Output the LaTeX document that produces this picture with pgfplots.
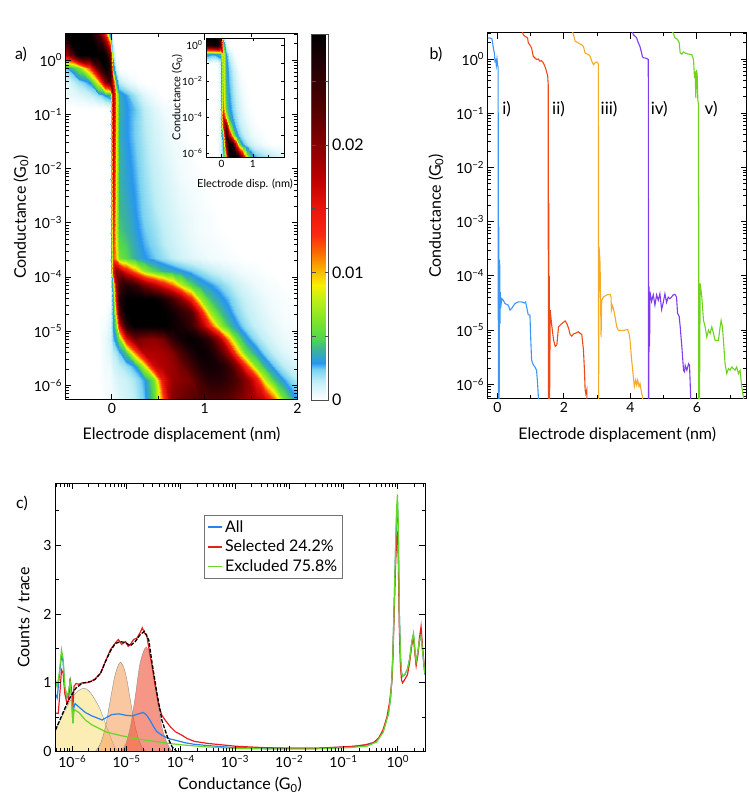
\documentclass[border=0pt]{standalone}
\usepackage{pgfplots}
\pgfplotsset{compat=1.18}
\usepackage{fontspec}
\setmainfont{Lato}
\definecolor{trI}{RGB}{60,150,245}
\definecolor{trII}{RGB}{235,75,25}
\definecolor{trIII}{RGB}{245,170,40}
\definecolor{trIV}{RGB}{125,60,240}
\definecolor{trV}{RGB}{110,210,30}
\definecolor{hAll}{RGB}{40,130,235}
\definecolor{hSel}{RGB}{235,30,30}
\definecolor{hExc}{RGB}{100,215,40}
\definecolor{gY}{RGB}{250,225,130}
\definecolor{gO}{RGB}{247,163,97}
\definecolor{gR}{RGB}{238,80,55}
\def\logminor{-6.699,-6.523,-6.398,-6.301,-6.222,-6.155,-6.097,-6.046,-5.699,-5.523,-5.398,-5.301,-5.222,-5.155,-5.097,-5.046,-4.699,-4.523,-4.398,-4.301,-4.222,-4.155,-4.097,-4.046,-3.699,-3.523,-3.398,-3.301,-3.222,-3.155,-3.097,-3.046,-2.699,-2.523,-2.398,-2.301,-2.222,-2.155,-2.097,-2.046,-1.699,-1.523,-1.398,-1.301,-1.222,-1.155,-1.097,-1.046,-0.699,-0.523,-0.398,-0.301,-0.222,-0.155,-0.097,-0.046,0.301,0.477}
\newcommand\tp[1]{10\textsuperscript{#1}}
\pgfplotsset{
  colormap={hm}{rgb255(0pt)=(255,255,255) rgb255(5pt)=(236,250,252) rgb255(15pt)=(190,238,245) rgb255(24pt)=(120,210,240) rgb255(29pt)=(40,150,240) rgb255(34pt)=(50,165,200) rgb255(40pt)=(60,180,150) rgb255(48pt)=(80,215,80) rgb255(63pt)=(130,230,40) rgb255(81pt)=(200,240,20) rgb255(90pt)=(250,240,0) rgb255(103pt)=(250,175,0) rgb255(117pt)=(250,100,0) rgb255(130pt)=(250,40,20) rgb255(150pt)=(235,20,10) rgb255(175pt)=(185,0,0) rgb255(200pt)=(135,0,0) rgb255(227pt)=(85,0,0) rgb255(265pt)=(30,0,5) rgb255(287pt)=(0,0,0)},
  myax/.style={scale only axis, anchor=south west, axis line style={line width=1pt},
    every tick/.style={line width=0.8pt, black}, major tick length=6pt, minor tick length=3.5pt,
    tick label style={font=\fontsize{14}{16}\selectfont},
    label style={font=\fontsize{16}{19}\selectfont}},
}
\begin{document}
\begin{tikzpicture}
\useasboundingbox (0,0) rectangle (748pt,795pt);
% ---------------- panel a ----------------
\begin{axis}[myax, at={(65.5pt,395pt)}, width=232pt, height=366pt,
  xmin=-0.5, xmax=2, ymin=-6.27, ymax=0.48, axis on top,
  xtick={0,1,2}, xticklabels={0,1,2}, minor xtick={-0.5,0.5,1.5},
  ytick={-6,-5,-4,-3,-2,-1,0}, yticklabels={\tp{−6},\tp{−5},\tp{−4},\tp{−3},\tp{−2},\tp{−1},\tp{0}},
  minor ytick=\logminor,
  xlabel={Electrode displacement (nm)}, ylabel={Conductance (G\textsubscript{0})},
  xlabel style={at={(axis description cs:0.5,-0.0956)}, anchor=center},
  ylabel style={at={(axis description cs:-0.192,0.5)}, anchor=center},
  colormap name=hm, point meta min=0, point meta max=287,
  colorbar,
  colorbar style={at={(parent axis.north east)}, anchor=north west, xshift=5.5pt,
    width=17pt, height=366pt, scale only axis, axis line style={line width=0.6pt, black!70},
    ytick={0,50,100,150,200,250}, yticklabels={0,,0.01,,0.02,},
    yticklabel style={font=\fontsize{16}{18}\selectfont},
    major tick length=4pt, every tick/.style={line width=0.6pt, black!70}},
]
\addplot[surf, shader=interp, mesh/cols=28, point meta=explicit] coordinates {
(-0.5,-6.27)[0] (-0.35,-6.27)[0] (-0.25,-6.27)[0] (-0.15,-6.27)[0] (-0.07,-6.27)[2] (-0.02,-6.27)[3] (0.015,-6.27)[5] (0.045,-6.27)[6] (0.08,-6.27)[8] (0.15,-6.27)[10] (0.25,-6.27)[15] (0.35,-6.27)[25] (0.45,-6.27)[50] (0.55,-6.27)[120] (0.65,-6.27)[200] (0.75,-6.27)[215] (0.85,-6.27)[225] (0.95,-6.27)[230] (1.05,-6.27)[230] (1.15,-6.27)[230] (1.25,-6.27)[225] (1.35,-6.27)[210] (1.45,-6.27)[195] (1.55,-6.27)[180] (1.65,-6.27)[165] (1.75,-6.27)[120] (1.85,-6.27)[60] (2.0,-6.27)[30]
(-0.5,-5.90)[0] (-0.35,-5.90)[0] (-0.25,-5.90)[0] (-0.15,-5.90)[0] (-0.07,-5.90)[3] (-0.02,-5.90)[3] (0.015,-5.90)[6] (0.045,-5.90)[8] (0.08,-5.90)[10] (0.15,-5.90)[12] (0.25,-5.90)[18] (0.35,-5.90)[28] (0.45,-5.90)[60] (0.55,-5.90)[150] (0.65,-5.90)[190] (0.75,-5.90)[200] (0.85,-5.90)[210] (0.95,-5.90)[240] (1.05,-5.90)[260] (1.15,-5.90)[260] (1.25,-5.90)[250] (1.35,-5.90)[230] (1.45,-5.90)[200] (1.55,-5.90)[150] (1.65,-5.90)[80] (1.75,-5.90)[45] (1.85,-5.90)[28] (2.0,-5.90)[16]
(-0.5,-5.65)[0] (-0.35,-5.65)[0] (-0.25,-5.65)[0] (-0.15,-5.65)[0] (-0.07,-5.65)[4] (-0.02,-5.65)[5] (0.015,-5.65)[10] (0.045,-5.65)[12] (0.08,-5.65)[15] (0.15,-5.65)[20] (0.25,-5.65)[30] (0.35,-5.65)[80] (0.45,-5.65)[165] (0.55,-5.65)[180] (0.65,-5.65)[190] (0.75,-5.65)[210] (0.85,-5.65)[240] (0.95,-5.65)[265] (1.05,-5.65)[275] (1.15,-5.65)[270] (1.25,-5.65)[250] (1.35,-5.65)[200] (1.45,-5.65)[130] (1.55,-5.65)[65] (1.65,-5.65)[38] (1.75,-5.65)[25] (1.85,-5.65)[15] (2.0,-5.65)[9]
(-0.5,-5.40)[0] (-0.35,-5.40)[0] (-0.25,-5.40)[0] (-0.15,-5.40)[0] (-0.07,-5.40)[5] (-0.02,-5.40)[8] (0.015,-5.40)[15] (0.045,-5.40)[18] (0.08,-5.40)[25] (0.15,-5.40)[45] (0.25,-5.40)[110] (0.35,-5.40)[175] (0.45,-5.40)[180] (0.55,-5.40)[185] (0.65,-5.40)[200] (0.75,-5.40)[235] (0.85,-5.40)[265] (0.95,-5.40)[280] (1.05,-5.40)[275] (1.15,-5.40)[240] (1.25,-5.40)[190] (1.35,-5.40)[110] (1.45,-5.40)[55] (1.55,-5.40)[35] (1.65,-5.40)[22] (1.75,-5.40)[14] (1.85,-5.40)[8] (2.0,-5.40)[5]
(-0.5,-5.15)[0] (-0.35,-5.15)[0] (-0.25,-5.15)[0] (-0.15,-5.15)[0] (-0.07,-5.15)[5] (-0.02,-5.15)[10] (0.015,-5.15)[25] (0.045,-5.15)[35] (0.08,-5.15)[60] (0.15,-5.15)[150] (0.25,-5.15)[210] (0.35,-5.15)[200] (0.45,-5.15)[195] (0.55,-5.15)[210] (0.65,-5.15)[250] (0.75,-5.15)[275] (0.85,-5.15)[285] (0.95,-5.15)[275] (1.05,-5.15)[250] (1.15,-5.15)[190] (1.25,-5.15)[110] (1.35,-5.15)[55] (1.45,-5.15)[32] (1.55,-5.15)[20] (1.65,-5.15)[13] (1.75,-5.15)[8] (1.85,-5.15)[5] (2.0,-5.15)[3]
(-0.5,-4.90)[0] (-0.35,-4.90)[0] (-0.25,-4.90)[0] (-0.15,-4.90)[0] (-0.07,-4.90)[3] (-0.02,-4.90)[8] (0.015,-4.90)[30] (0.045,-4.90)[60] (0.08,-4.90)[150] (0.15,-4.90)[260] (0.25,-4.90)[287] (0.35,-4.90)[287] (0.45,-4.90)[287] (0.55,-4.90)[287] (0.65,-4.90)[280] (0.75,-4.90)[270] (0.85,-4.90)[250] (0.95,-4.90)[200] (1.05,-4.90)[140] (1.15,-4.90)[75] (1.25,-4.90)[45] (1.35,-4.90)[30] (1.45,-4.90)[20] (1.55,-4.90)[13] (1.65,-4.90)[9] (1.75,-4.90)[6] (1.85,-4.90)[3] (2.0,-4.90)[2]
(-0.5,-4.65)[0] (-0.35,-4.65)[0] (-0.25,-4.65)[0] (-0.15,-4.65)[0] (-0.07,-4.65)[0] (-0.02,-4.65)[5] (0.015,-4.65)[35] (0.045,-4.65)[110] (0.08,-4.65)[240] (0.15,-4.65)[287] (0.25,-4.65)[287] (0.35,-4.65)[287] (0.45,-4.65)[287] (0.55,-4.65)[287] (0.65,-4.65)[275] (0.75,-4.65)[255] (0.85,-4.65)[230] (0.95,-4.65)[150] (1.05,-4.65)[75] (1.15,-4.65)[45] (1.25,-4.65)[32] (1.35,-4.65)[22] (1.45,-4.65)[15] (1.55,-4.65)[10] (1.65,-4.65)[7] (1.75,-4.65)[4] (1.85,-4.65)[2] (2.0,-4.65)[1]
(-0.5,-4.40)[0] (-0.35,-4.40)[0] (-0.25,-4.40)[0] (-0.15,-4.40)[0] (-0.07,-4.40)[0] (-0.02,-4.40)[0] (0.015,-4.40)[40] (0.045,-4.40)[150] (0.08,-4.40)[260] (0.15,-4.40)[287] (0.25,-4.40)[287] (0.35,-4.40)[287] (0.45,-4.40)[287] (0.55,-4.40)[270] (0.65,-4.40)[240] (0.75,-4.40)[200] (0.85,-4.40)[140] (0.95,-4.40)[75] (1.05,-4.40)[45] (1.15,-4.40)[33] (1.25,-4.40)[26] (1.35,-4.40)[18] (1.45,-4.40)[12] (1.55,-4.40)[8] (1.65,-4.40)[5] (1.75,-4.40)[3] (1.85,-4.40)[2] (2.0,-4.40)[0]
(-0.5,-4.15)[0] (-0.35,-4.15)[0] (-0.25,-4.15)[0] (-0.15,-4.15)[0] (-0.07,-4.15)[0] (-0.02,-4.15)[0] (0.015,-4.15)[60] (0.045,-4.15)[180] (0.08,-4.15)[240] (0.15,-4.15)[265] (0.25,-4.15)[250] (0.35,-4.15)[210] (0.45,-4.15)[180] (0.55,-4.15)[150] (0.65,-4.15)[120] (0.75,-4.15)[80] (0.85,-4.15)[50] (0.95,-4.15)[36] (1.05,-4.15)[30] (1.15,-4.15)[24] (1.25,-4.15)[18] (1.35,-4.15)[12] (1.45,-4.15)[8] (1.55,-4.15)[5] (1.65,-4.15)[3] (1.75,-4.15)[2] (1.85,-4.15)[0] (2.0,-4.15)[0]
(-0.5,-3.90)[0] (-0.35,-3.90)[0] (-0.25,-3.90)[0] (-0.15,-3.90)[0] (-0.07,-3.90)[0] (-0.02,-3.90)[0] (0.015,-3.90)[150] (0.045,-3.90)[200] (0.08,-3.90)[190] (0.15,-3.90)[150] (0.25,-3.90)[110] (0.35,-3.90)[70] (0.45,-3.90)[50] (0.55,-3.90)[40] (0.65,-3.90)[35] (0.75,-3.90)[30] (0.85,-3.90)[25] (0.95,-3.90)[20] (1.05,-3.90)[15] (1.15,-3.90)[11] (1.25,-3.90)[8] (1.35,-3.90)[5] (1.45,-3.90)[3] (1.55,-3.90)[2] (1.65,-3.90)[0] (1.75,-3.90)[0] (1.85,-3.90)[0] (2.0,-3.90)[0]
(-0.5,-3.65)[0] (-0.35,-3.65)[0] (-0.25,-3.65)[0] (-0.15,-3.65)[0] (-0.07,-3.65)[0] (-0.02,-3.65)[0] (0.015,-3.65)[120] (0.045,-3.65)[100] (0.08,-3.65)[60] (0.15,-3.65)[50] (0.25,-3.65)[38] (0.35,-3.65)[30] (0.45,-3.65)[25] (0.55,-3.65)[20] (0.65,-3.65)[15] (0.75,-3.65)[11] (0.85,-3.65)[8] (0.95,-3.65)[6] (1.05,-3.65)[4] (1.15,-3.65)[3] (1.25,-3.65)[2] (1.35,-3.65)[1] (1.45,-3.65)[0] (1.55,-3.65)[0] (1.65,-3.65)[0] (1.75,-3.65)[0] (1.85,-3.65)[0] (2.0,-3.65)[0]
(-0.5,-3.40)[0] (-0.35,-3.40)[0] (-0.25,-3.40)[0] (-0.15,-3.40)[0] (-0.07,-3.40)[0] (-0.02,-3.40)[0] (0.015,-3.40)[130] (0.045,-3.40)[90] (0.08,-3.40)[50] (0.15,-3.40)[45] (0.25,-3.40)[35] (0.35,-3.40)[27] (0.45,-3.40)[22] (0.55,-3.40)[16] (0.65,-3.40)[12] (0.75,-3.40)[9] (0.85,-3.40)[6] (0.95,-3.40)[4] (1.05,-3.40)[3] (1.15,-3.40)[2] (1.25,-3.40)[1] (1.35,-3.40)[0] (1.45,-3.40)[0] (1.55,-3.40)[0] (1.65,-3.40)[0] (1.75,-3.40)[0] (1.85,-3.40)[0] (2.0,-3.40)[0]
(-0.5,-3.15)[0] (-0.35,-3.15)[0] (-0.25,-3.15)[0] (-0.15,-3.15)[0] (-0.07,-3.15)[0] (-0.02,-3.15)[0] (0.015,-3.15)[140] (0.045,-3.15)[85] (0.08,-3.15)[45] (0.15,-3.15)[40] (0.25,-3.15)[32] (0.35,-3.15)[25] (0.45,-3.15)[20] (0.55,-3.15)[15] (0.65,-3.15)[11] (0.75,-3.15)[8] (0.85,-3.15)[5] (0.95,-3.15)[3] (1.05,-3.15)[2] (1.15,-3.15)[1] (1.25,-3.15)[0] (1.35,-3.15)[0] (1.45,-3.15)[0] (1.55,-3.15)[0] (1.65,-3.15)[0] (1.75,-3.15)[0] (1.85,-3.15)[0] (2.0,-3.15)[0]
(-0.5,-2.90)[0] (-0.35,-2.90)[0] (-0.25,-2.90)[0] (-0.15,-2.90)[0] (-0.07,-2.90)[0] (-0.02,-2.90)[0] (0.015,-2.90)[150] (0.045,-2.90)[82] (0.08,-2.90)[42] (0.15,-2.90)[38] (0.25,-2.90)[30] (0.35,-2.90)[23] (0.45,-2.90)[18] (0.55,-2.90)[13] (0.65,-2.90)[10] (0.75,-2.90)[7] (0.85,-2.90)[5] (0.95,-2.90)[3] (1.05,-2.90)[2] (1.15,-2.90)[0] (1.25,-2.90)[0] (1.35,-2.90)[0] (1.45,-2.90)[0] (1.55,-2.90)[0] (1.65,-2.90)[0] (1.75,-2.90)[0] (1.85,-2.90)[0] (2.0,-2.90)[0]
(-0.5,-2.65)[0] (-0.35,-2.65)[0] (-0.25,-2.65)[0] (-0.15,-2.65)[0] (-0.07,-2.65)[0] (-0.02,-2.65)[0] (0.015,-2.65)[160] (0.045,-2.65)[85] (0.08,-2.65)[40] (0.15,-2.65)[36] (0.25,-2.65)[29] (0.35,-2.65)[22] (0.45,-2.65)[16] (0.55,-2.65)[12] (0.65,-2.65)[9] (0.75,-2.65)[6] (0.85,-2.65)[4] (0.95,-2.65)[2] (1.05,-2.65)[1] (1.15,-2.65)[0] (1.25,-2.65)[0] (1.35,-2.65)[0] (1.45,-2.65)[0] (1.55,-2.65)[0] (1.65,-2.65)[0] (1.75,-2.65)[0] (1.85,-2.65)[0] (2.0,-2.65)[0]
(-0.5,-2.40)[0] (-0.35,-2.40)[0] (-0.25,-2.40)[0] (-0.15,-2.40)[0] (-0.07,-2.40)[0] (-0.02,-2.40)[0] (0.015,-2.40)[165] (0.045,-2.40)[85] (0.08,-2.40)[40] (0.15,-2.40)[34] (0.25,-2.40)[28] (0.35,-2.40)[21] (0.45,-2.40)[15] (0.55,-2.40)[11] (0.65,-2.40)[8] (0.75,-2.40)[5] (0.85,-2.40)[3] (0.95,-2.40)[2] (1.05,-2.40)[0] (1.15,-2.40)[0] (1.25,-2.40)[0] (1.35,-2.40)[0] (1.45,-2.40)[0] (1.55,-2.40)[0] (1.65,-2.40)[0] (1.75,-2.40)[0] (1.85,-2.40)[0] (2.0,-2.40)[0]
(-0.5,-2.15)[0] (-0.35,-2.15)[0] (-0.25,-2.15)[0] (-0.15,-2.15)[0] (-0.07,-2.15)[0] (-0.02,-2.15)[0] (0.015,-2.15)[170] (0.045,-2.15)[88] (0.08,-2.15)[38] (0.15,-2.15)[33] (0.25,-2.15)[27] (0.35,-2.15)[20] (0.45,-2.15)[14] (0.55,-2.15)[10] (0.65,-2.15)[7] (0.75,-2.15)[4] (0.85,-2.15)[2] (0.95,-2.15)[1] (1.05,-2.15)[0] (1.15,-2.15)[0] (1.25,-2.15)[0] (1.35,-2.15)[0] (1.45,-2.15)[0] (1.55,-2.15)[0] (1.65,-2.15)[0] (1.75,-2.15)[0] (1.85,-2.15)[0] (2.0,-2.15)[0]
(-0.5,-1.90)[0] (-0.35,-1.90)[0] (-0.25,-1.90)[0] (-0.15,-1.90)[0] (-0.07,-1.90)[0] (-0.02,-1.90)[0] (0.015,-1.90)[175] (0.045,-1.90)[90] (0.08,-1.90)[38] (0.15,-1.90)[32] (0.25,-1.90)[26] (0.35,-1.90)[19] (0.45,-1.90)[13] (0.55,-1.90)[9] (0.65,-1.90)[6] (0.75,-1.90)[3] (0.85,-1.90)[2] (0.95,-1.90)[0] (1.05,-1.90)[0] (1.15,-1.90)[0] (1.25,-1.90)[0] (1.35,-1.90)[0] (1.45,-1.90)[0] (1.55,-1.90)[0] (1.65,-1.90)[0] (1.75,-1.90)[0] (1.85,-1.90)[0] (2.0,-1.90)[0]
(-0.5,-1.65)[0] (-0.35,-1.65)[0] (-0.25,-1.65)[0] (-0.15,-1.65)[0] (-0.07,-1.65)[0] (-0.02,-1.65)[0] (0.015,-1.65)[180] (0.045,-1.65)[90] (0.08,-1.65)[38] (0.15,-1.65)[31] (0.25,-1.65)[25] (0.35,-1.65)[18] (0.45,-1.65)[12] (0.55,-1.65)[8] (0.65,-1.65)[5] (0.75,-1.65)[3] (0.85,-1.65)[1] (0.95,-1.65)[0] (1.05,-1.65)[0] (1.15,-1.65)[0] (1.25,-1.65)[0] (1.35,-1.65)[0] (1.45,-1.65)[0] (1.55,-1.65)[0] (1.65,-1.65)[0] (1.75,-1.65)[0] (1.85,-1.65)[0] (2.0,-1.65)[0]
(-0.5,-1.40)[0] (-0.35,-1.40)[0] (-0.25,-1.40)[0] (-0.15,-1.40)[0] (-0.07,-1.40)[0] (-0.02,-1.40)[0] (0.015,-1.40)[185] (0.045,-1.40)[92] (0.08,-1.40)[36] (0.15,-1.40)[30] (0.25,-1.40)[24] (0.35,-1.40)[17] (0.45,-1.40)[11] (0.55,-1.40)[7] (0.65,-1.40)[4] (0.75,-1.40)[2] (0.85,-1.40)[0] (0.95,-1.40)[0] (1.05,-1.40)[0] (1.15,-1.40)[0] (1.25,-1.40)[0] (1.35,-1.40)[0] (1.45,-1.40)[0] (1.55,-1.40)[0] (1.65,-1.40)[0] (1.75,-1.40)[0] (1.85,-1.40)[0] (2.0,-1.40)[0]
(-0.5,-1.15)[0] (-0.35,-1.15)[0] (-0.25,-1.15)[0] (-0.15,-1.15)[0] (-0.07,-1.15)[0] (-0.02,-1.15)[0] (0.015,-1.15)[190] (0.045,-1.15)[95] (0.08,-1.15)[36] (0.15,-1.15)[30] (0.25,-1.15)[24] (0.35,-1.15)[16] (0.45,-1.15)[10] (0.55,-1.15)[6] (0.65,-1.15)[3] (0.75,-1.15)[2] (0.85,-1.15)[0] (0.95,-1.15)[0] (1.05,-1.15)[0] (1.15,-1.15)[0] (1.25,-1.15)[0] (1.35,-1.15)[0] (1.45,-1.15)[0] (1.55,-1.15)[0] (1.65,-1.15)[0] (1.75,-1.15)[0] (1.85,-1.15)[0] (2.0,-1.15)[0]
(-0.5,-0.90)[0] (-0.35,-0.90)[0] (-0.25,-0.90)[0] (-0.15,-0.90)[0] (-0.07,-0.90)[0] (-0.02,-0.90)[3] (0.015,-0.90)[190] (0.045,-0.90)[95] (0.08,-0.90)[38] (0.15,-0.90)[30] (0.25,-0.90)[25] (0.35,-0.90)[15] (0.45,-0.90)[8] (0.55,-0.90)[4] (0.65,-0.90)[2] (0.75,-0.90)[0] (0.85,-0.90)[0] (0.95,-0.90)[0] (1.05,-0.90)[0] (1.15,-0.90)[0] (1.25,-0.90)[0] (1.35,-0.90)[0] (1.45,-0.90)[0] (1.55,-0.90)[0] (1.65,-0.90)[0] (1.75,-0.90)[0] (1.85,-0.90)[0] (2.0,-0.90)[0]
(-0.5,-0.65)[5] (-0.35,-0.65)[8] (-0.25,-0.65)[12] (-0.15,-0.65)[20] (-0.07,-0.65)[30] (-0.02,-0.65)[35] (0.015,-0.65)[190] (0.045,-0.65)[95] (0.08,-0.65)[35] (0.15,-0.65)[28] (0.25,-0.65)[18] (0.35,-0.65)[8] (0.45,-0.65)[3] (0.55,-0.65)[0] (0.65,-0.65)[0] (0.75,-0.65)[0] (0.85,-0.65)[0] (0.95,-0.65)[0] (1.05,-0.65)[0] (1.15,-0.65)[0] (1.25,-0.65)[0] (1.35,-0.65)[0] (1.45,-0.65)[0] (1.55,-0.65)[0] (1.65,-0.65)[0] (1.75,-0.65)[0] (1.85,-0.65)[0] (2.0,-0.65)[0]
(-0.5,-0.40)[8] (-0.35,-0.40)[20] (-0.25,-0.40)[30] (-0.15,-0.40)[90] (-0.07,-0.40)[200] (-0.02,-0.40)[240] (0.015,-0.40)[150] (0.045,-0.40)[40] (0.08,-0.40)[15] (0.15,-0.40)[8] (0.25,-0.40)[3] (0.35,-0.40)[0] (0.45,-0.40)[0] (0.55,-0.40)[0] (0.65,-0.40)[0] (0.75,-0.40)[0] (0.85,-0.40)[0] (0.95,-0.40)[0] (1.05,-0.40)[0] (1.15,-0.40)[0] (1.25,-0.40)[0] (1.35,-0.40)[0] (1.45,-0.40)[0] (1.55,-0.40)[0] (1.65,-0.40)[0] (1.75,-0.40)[0] (1.85,-0.40)[0] (2.0,-0.40)[0]
(-0.5,-0.15)[25] (-0.35,-0.15)[60] (-0.25,-0.15)[120] (-0.15,-0.15)[230] (-0.07,-0.15)[287] (-0.02,-0.15)[260] (0.015,-0.15)[40] (0.045,-0.15)[10] (0.08,-0.15)[0] (0.15,-0.15)[0] (0.25,-0.15)[0] (0.35,-0.15)[0] (0.45,-0.15)[0] (0.55,-0.15)[0] (0.65,-0.15)[0] (0.75,-0.15)[0] (0.85,-0.15)[0] (0.95,-0.15)[0] (1.05,-0.15)[0] (1.15,-0.15)[0] (1.25,-0.15)[0] (1.35,-0.15)[0] (1.45,-0.15)[0] (1.55,-0.15)[0] (1.65,-0.15)[0] (1.75,-0.15)[0] (1.85,-0.15)[0] (2.0,-0.15)[0]
(-0.5,0.10)[180] (-0.35,0.10)[287] (-0.25,0.10)[287] (-0.15,0.10)[287] (-0.07,0.10)[287] (-0.02,0.10)[220] (0.015,0.10)[20] (0.045,0.10)[0] (0.08,0.10)[0] (0.15,0.10)[0] (0.25,0.10)[0] (0.35,0.10)[0] (0.45,0.10)[0] (0.55,0.10)[0] (0.65,0.10)[0] (0.75,0.10)[0] (0.85,0.10)[0] (0.95,0.10)[0] (1.05,0.10)[0] (1.15,0.10)[0] (1.25,0.10)[0] (1.35,0.10)[0] (1.45,0.10)[0] (1.55,0.10)[0] (1.65,0.10)[0] (1.75,0.10)[0] (1.85,0.10)[0] (2.0,0.10)[0]
(-0.5,0.48)[287] (-0.35,0.48)[287] (-0.25,0.48)[287] (-0.15,0.48)[240] (-0.07,0.48)[150] (-0.02,0.48)[30] (0.015,0.48)[0] (0.045,0.48)[0] (0.08,0.48)[0] (0.15,0.48)[0] (0.25,0.48)[0] (0.35,0.48)[0] (0.45,0.48)[0] (0.55,0.48)[0] (0.65,0.48)[0] (0.75,0.48)[0] (0.85,0.48)[0] (0.95,0.48)[0] (1.05,0.48)[0] (1.15,0.48)[0] (1.25,0.48)[0] (1.35,0.48)[0] (1.45,0.48)[0] (1.55,0.48)[0] (1.65,0.48)[0] (1.75,0.48)[0] (1.85,0.48)[0] (2.0,0.48)[0]
};
\end{axis}
% ---------------- inset ----------------
\begin{axis}[myax, at={(206pt,638pt)}, width=78pt, height=119pt,
  xmin=-0.5, xmax=2, ymin=-6.22, ymax=0.4, axis on top,
  axis background/.style={fill=white},
  axis line style={line width=0.7pt}, every tick/.style={line width=0.5pt, black},
  major tick length=3pt, minor tick length=1.5pt,
  xtick={0,1}, xticklabels={0,1}, minor xtick={-0.5,0.5,1.5},
  ytick={-6,-5,-4,-3,-2,-1,0}, yticklabels={\tp{−6},,\tp{−4},,\tp{−2},,\tp{0}},
  tick label style={font=\fontsize{10}{11}\selectfont},
  label style={font=\fontsize{11}{12}\selectfont},
  xlabel={Electrode disp. (nm)}, ylabel={Conductance (G\textsubscript{0})},
  xlabel style={at={(axis description cs:0.5,-0.227)}, anchor=center},
  ylabel style={at={(axis description cs:-0.37,0.5)}, anchor=center},
  colormap name=hm, point meta min=0, point meta max=287,
]
\addplot[surf, shader=interp, mesh/cols=25, point meta=explicit] coordinates {
(-0.5,-6.22)[0] (-0.35,-6.22)[0] (-0.25,-6.22)[0] (-0.15,-6.22)[0] (-0.05,-6.22)[8] (0.05,-6.22)[25] (0.15,-6.22)[100] (0.25,-6.22)[287] (0.35,-6.22)[287] (0.45,-6.22)[287] (0.55,-6.22)[260] (0.65,-6.22)[200] (0.75,-6.22)[120] (0.85,-6.22)[60] (0.95,-6.22)[40] (1.05,-6.22)[30] (1.15,-6.22)[25] (1.25,-6.22)[22] (1.35,-6.22)[20] (1.45,-6.22)[18] (1.55,-6.22)[16] (1.65,-6.22)[14] (1.75,-6.22)[12] (1.85,-6.22)[10] (2.0,-6.22)[8]
(-0.5,-5.5)[0] (-0.35,-5.5)[0] (-0.25,-5.5)[0] (-0.15,-5.5)[0] (-0.05,-5.5)[8] (0.05,-5.5)[30] (0.15,-5.5)[200] (0.25,-5.5)[287] (0.35,-5.5)[250] (0.45,-5.5)[150] (0.55,-5.5)[60] (0.65,-5.5)[30] (0.75,-5.5)[22] (0.85,-5.5)[16] (0.95,-5.5)[12] (1.05,-5.5)[9] (1.15,-5.5)[7] (1.25,-5.5)[5] (1.35,-5.5)[3] (1.45,-5.5)[2] (1.55,-5.5)[1] (1.65,-5.5)[0] (1.75,-5.5)[0] (1.85,-5.5)[0] (2.0,-5.5)[0]
(-0.5,-5.0)[0] (-0.35,-5.0)[0] (-0.25,-5.0)[0] (-0.15,-5.0)[0] (-0.05,-5.0)[8] (0.05,-5.0)[60] (0.15,-5.0)[260] (0.25,-5.0)[180] (0.35,-5.0)[70] (0.45,-5.0)[35] (0.55,-5.0)[24] (0.65,-5.0)[17] (0.75,-5.0)[12] (0.85,-5.0)[9] (0.95,-5.0)[6] (1.05,-5.0)[4] (1.15,-5.0)[3] (1.25,-5.0)[2] (1.35,-5.0)[1] (1.45,-5.0)[0] (1.55,-5.0)[0] (1.65,-5.0)[0] (1.75,-5.0)[0] (1.85,-5.0)[0] (2.0,-5.0)[0]
(-0.5,-4.5)[0] (-0.35,-4.5)[0] (-0.25,-4.5)[0] (-0.15,-4.5)[0] (-0.05,-4.5)[8] (0.05,-4.5)[140] (0.15,-4.5)[220] (0.25,-4.5)[80] (0.35,-4.5)[35] (0.45,-4.5)[24] (0.55,-4.5)[17] (0.65,-4.5)[12] (0.75,-4.5)[9] (0.85,-4.5)[6] (0.95,-4.5)[4] (1.05,-4.5)[2] (1.15,-4.5)[1] (1.25,-4.5)[0] (1.35,-4.5)[0] (1.45,-4.5)[0] (1.55,-4.5)[0] (1.65,-4.5)[0] (1.75,-4.5)[0] (1.85,-4.5)[0] (2.0,-4.5)[0]
(-0.5,-4.0)[0] (-0.35,-4.0)[0] (-0.25,-4.0)[0] (-0.15,-4.0)[0] (-0.05,-4.0)[8] (0.05,-4.0)[160] (0.15,-4.0)[90] (0.25,-4.0)[40] (0.35,-4.0)[26] (0.45,-4.0)[19] (0.55,-4.0)[13] (0.65,-4.0)[9] (0.75,-4.0)[6] (0.85,-4.0)[4] (0.95,-4.0)[2] (1.05,-4.0)[1] (1.15,-4.0)[0] (1.25,-4.0)[0] (1.35,-4.0)[0] (1.45,-4.0)[0] (1.55,-4.0)[0] (1.65,-4.0)[0] (1.75,-4.0)[0] (1.85,-4.0)[0] (2.0,-4.0)[0]
(-0.5,-3.5)[0] (-0.35,-3.5)[0] (-0.25,-3.5)[0] (-0.15,-3.5)[0] (-0.05,-3.5)[8] (0.05,-3.5)[120] (0.15,-3.5)[50] (0.25,-3.5)[32] (0.35,-3.5)[22] (0.45,-3.5)[16] (0.55,-3.5)[11] (0.65,-3.5)[7] (0.75,-3.5)[4] (0.85,-3.5)[2] (0.95,-3.5)[1] (1.05,-3.5)[0] (1.15,-3.5)[0] (1.25,-3.5)[0] (1.35,-3.5)[0] (1.45,-3.5)[0] (1.55,-3.5)[0] (1.65,-3.5)[0] (1.75,-3.5)[0] (1.85,-3.5)[0] (2.0,-3.5)[0]
(-0.5,-3.0)[0] (-0.35,-3.0)[0] (-0.25,-3.0)[0] (-0.15,-3.0)[0] (-0.05,-3.0)[8] (0.05,-3.0)[110] (0.15,-3.0)[45] (0.25,-3.0)[30] (0.35,-3.0)[20] (0.45,-3.0)[14] (0.55,-3.0)[9] (0.65,-3.0)[5] (0.75,-3.0)[3] (0.85,-3.0)[1] (0.95,-3.0)[0] (1.05,-3.0)[0] (1.15,-3.0)[0] (1.25,-3.0)[0] (1.35,-3.0)[0] (1.45,-3.0)[0] (1.55,-3.0)[0] (1.65,-3.0)[0] (1.75,-3.0)[0] (1.85,-3.0)[0] (2.0,-3.0)[0]
(-0.5,-2.5)[0] (-0.35,-2.5)[0] (-0.25,-2.5)[0] (-0.15,-2.5)[0] (-0.05,-2.5)[8] (0.05,-2.5)[105] (0.15,-2.5)[42] (0.25,-2.5)[28] (0.35,-2.5)[18] (0.45,-2.5)[12] (0.55,-2.5)[7] (0.65,-2.5)[4] (0.75,-2.5)[2] (0.85,-2.5)[1] (0.95,-2.5)[0] (1.05,-2.5)[0] (1.15,-2.5)[0] (1.25,-2.5)[0] (1.35,-2.5)[0] (1.45,-2.5)[0] (1.55,-2.5)[0] (1.65,-2.5)[0] (1.75,-2.5)[0] (1.85,-2.5)[0] (2.0,-2.5)[0]
(-0.5,-2.0)[0] (-0.35,-2.0)[0] (-0.25,-2.0)[0] (-0.15,-2.0)[0] (-0.05,-2.0)[8] (0.05,-2.0)[100] (0.15,-2.0)[40] (0.25,-2.0)[26] (0.35,-2.0)[16] (0.45,-2.0)[10] (0.55,-2.0)[5] (0.65,-2.0)[2] (0.75,-2.0)[1] (0.85,-2.0)[0] (0.95,-2.0)[0] (1.05,-2.0)[0] (1.15,-2.0)[0] (1.25,-2.0)[0] (1.35,-2.0)[0] (1.45,-2.0)[0] (1.55,-2.0)[0] (1.65,-2.0)[0] (1.75,-2.0)[0] (1.85,-2.0)[0] (2.0,-2.0)[0]
(-0.5,-1.5)[0] (-0.35,-1.5)[0] (-0.25,-1.5)[0] (-0.15,-1.5)[0] (-0.05,-1.5)[8] (0.05,-1.5)[100] (0.15,-1.5)[38] (0.25,-1.5)[24] (0.35,-1.5)[14] (0.45,-1.5)[8] (0.55,-1.5)[3] (0.65,-1.5)[1] (0.75,-1.5)[0] (0.85,-1.5)[0] (0.95,-1.5)[0] (1.05,-1.5)[0] (1.15,-1.5)[0] (1.25,-1.5)[0] (1.35,-1.5)[0] (1.45,-1.5)[0] (1.55,-1.5)[0] (1.65,-1.5)[0] (1.75,-1.5)[0] (1.85,-1.5)[0] (2.0,-1.5)[0]
(-0.5,-1.0)[2] (-0.35,-1.0)[2] (-0.25,-1.0)[2] (-0.15,-1.0)[2] (-0.05,-1.0)[10] (0.05,-1.0)[100] (0.15,-1.0)[35] (0.25,-1.0)[20] (0.35,-1.0)[10] (0.45,-1.0)[4] (0.55,-1.0)[1] (0.65,-1.0)[0] (0.75,-1.0)[0] (0.85,-1.0)[0] (0.95,-1.0)[0] (1.05,-1.0)[0] (1.15,-1.0)[0] (1.25,-1.0)[0] (1.35,-1.0)[0] (1.45,-1.0)[0] (1.55,-1.0)[0] (1.65,-1.0)[0] (1.75,-1.0)[0] (1.85,-1.0)[0] (2.0,-1.0)[0]
(-0.5,-0.5)[35] (-0.35,-0.5)[30] (-0.25,-0.5)[30] (-0.15,-0.5)[35] (-0.05,-0.5)[40] (0.05,-0.5)[100] (0.15,-0.5)[30] (0.25,-0.5)[12] (0.35,-0.5)[4] (0.45,-0.5)[0] (0.55,-0.5)[0] (0.65,-0.5)[0] (0.75,-0.5)[0] (0.85,-0.5)[0] (0.95,-0.5)[0] (1.05,-0.5)[0] (1.15,-0.5)[0] (1.25,-0.5)[0] (1.35,-0.5)[0] (1.45,-0.5)[0] (1.55,-0.5)[0] (1.65,-0.5)[0] (1.75,-0.5)[0] (1.85,-0.5)[0] (2.0,-0.5)[0]
(-0.5,0.0)[260] (-0.35,0.0)[270] (-0.25,0.0)[280] (-0.15,0.0)[287] (-0.05,0.0)[240] (0.05,0.0)[60] (0.15,0.0)[8] (0.25,0.0)[0] (0.35,0.0)[0] (0.45,0.0)[0] (0.55,0.0)[0] (0.65,0.0)[0] (0.75,0.0)[0] (0.85,0.0)[0] (0.95,0.0)[0] (1.05,0.0)[0] (1.15,0.0)[0] (1.25,0.0)[0] (1.35,0.0)[0] (1.45,0.0)[0] (1.55,0.0)[0] (1.65,0.0)[0] (1.75,0.0)[0] (1.85,0.0)[0] (2.0,0.0)[0]
(-0.5,0.4)[287] (-0.35,0.4)[287] (-0.25,0.4)[287] (-0.15,0.4)[287] (-0.05,0.4)[230] (0.05,0.4)[20] (0.15,0.4)[0] (0.25,0.4)[0] (0.35,0.4)[0] (0.45,0.4)[0] (0.55,0.4)[0] (0.65,0.4)[0] (0.75,0.4)[0] (0.85,0.4)[0] (0.95,0.4)[0] (1.05,0.4)[0] (1.15,0.4)[0] (1.25,0.4)[0] (1.35,0.4)[0] (1.45,0.4)[0] (1.55,0.4)[0] (1.65,0.4)[0] (1.75,0.4)[0] (1.85,0.4)[0] (2.0,0.4)[0]
};
\end{axis}
% ---------------- panel b ----------------
\begin{axis}[myax, at={(487.7pt,396pt)}, width=259pt, height=366.3pt,
  xmin=-0.29, xmax=7.5, ymin=-6.27, ymax=0.485,
  xtick={0,2,4,6}, xticklabels={0,2,4,6}, minor xtick={1,3,5,7},
  ytick={-6,-5,-4,-3,-2,-1,0}, yticklabels={\tp{−6},\tp{−5},\tp{−4},\tp{−3},\tp{−2},\tp{−1},\tp{0}},
  minor ytick=\logminor,
  xlabel={Electrode displacement (nm)}, ylabel={Conductance (G\textsubscript{0})},
  xlabel style={at={(axis description cs:0.5,-0.098)}, anchor=center},
  ylabel style={at={(axis description cs:-0.2,0.5)}, anchor=center},
  every axis plot/.append style={line width=1.1pt},
]
\addplot[trI] coordinates {(-0.29,0.39) (-0.17,0.38) (-0.15,0.33) (-0.12,0.2) (-0.09,0.11) (-0.07,-0.04) (-0.05,-0.02) (-0.03,-0.12) (-0.01,0.0) (0.01,-0.12) (0.025,-0.15) (0.03,-6.5) (0.04,-6.5) (0.045,-3.09) (0.05,-4.8) (0.055,-6.5) (0.06,-4.0) (0.07,-3.7) (0.08,-4.88) (0.09,-4.3) (0.1,-4.6) (0.13,-4.42) (0.18,-4.45) (0.23,-4.51) (0.33,-4.54) (0.38,-4.63) (0.43,-4.6) (0.53,-4.51) (0.63,-4.48) (0.73,-4.48) (0.81,-4.5) (0.85,-4.48) (0.88,-4.57) (0.93,-4.72) (0.98,-4.72) (1.01,-5.25) (1.03,-5.55) (1.08,-5.64) (1.13,-5.68) (1.18,-5.74) (1.21,-5.98) (1.25,-6.4)};
\addplot[trII] coordinates {(0.73,0.55) (0.78,0.45) (0.83,0.42) (0.88,0.4) (0.91,0.39) (0.93,0.3) (0.98,0.26) (1.03,0.2) (1.08,0.05) (1.13,0.02) (1.18,-0.01) (1.23,0.0) (1.28,-0.04) (1.33,-0.03) (1.38,-0.07) (1.43,-0.135) (1.48,-0.23) (1.515,-0.32) (1.53,-0.47) (1.535,-6.5) (1.545,-2.66) (1.55,-6.5) (1.56,-4.0) (1.57,-6.5) (1.59,-4.63) (1.63,-4.88) (1.69,-5.18) (1.74,-5.3) (1.79,-5.27) (1.84,-4.94) (1.94,-4.88) (2.04,-4.83) (2.09,-4.88) (2.14,-4.96) (2.19,-5.08) (2.24,-5.11) (2.29,-5.07) (2.34,-5.06) (2.44,-5.03) (2.49,-5.06) (2.54,-5.08) (2.59,-5.37) (2.62,-5.74) (2.64,-6.1) (2.66,-6.17) (2.69,-6.1) (2.7,-6.5)};
\addplot[trIII] coordinates {(2.24,0.55) (2.29,0.45) (2.34,0.33) (2.44,0.295) (2.54,0.26) (2.59,0.23) (2.64,0.11) (2.74,0.08) (2.79,0.05) (2.84,-0.04) (2.89,-0.105) (2.94,-0.07) (2.99,-0.055) (3.02,-0.07) (3.04,-0.1) (3.045,-6.5) (3.06,-3.46) (3.09,-3.77) (3.12,-5.13) (3.14,-4.45) (3.19,-4.39) (3.29,-4.35) (3.39,-4.34) (3.42,-4.39) (3.43,-4.63) (3.46,-4.55) (3.49,-4.6) (3.54,-4.75) (3.59,-4.94) (3.64,-5.0) (3.74,-5.01) (3.84,-5.0) (3.92,-4.99) (3.96,-5.06) (3.99,-5.18) (4.04,-5.55) (4.09,-5.86) (4.12,-6.04) (4.16,-5.92) (4.19,-6.01) (4.22,-5.92) (4.26,-6.04) (4.29,-5.98) (4.34,-6.17) (4.37,-6.23) (4.38,-6.5)};
\addplot[trIV] coordinates {(4.04,0.55) (4.09,0.45) (4.19,0.39) (4.24,0.3) (4.29,0.23) (4.34,0.11) (4.36,0.05) (4.39,0.02) (4.44,0.02) (4.52,0.0) (4.54,-0.01) (4.545,-6.5) (4.55,-2.57) (4.555,-6.5) (4.56,-4.2) (4.565,-5.4) (4.57,-4.3) (4.58,-5.3) (4.59,-4.29) (4.64,-4.47) (4.69,-4.35) (4.74,-4.54) (4.79,-4.35) (4.84,-4.45) (4.89,-4.33) (4.94,-4.62) (4.99,-4.49) (5.04,-4.33) (5.09,-4.49) (5.14,-4.39) (5.19,-4.42) (5.24,-4.39) (5.29,-4.35) (5.34,-4.34) (5.39,-4.39) (5.42,-4.69) (5.47,-4.75) (5.5,-4.94) (5.55,-5.31) (5.6,-5.74) (5.63,-5.77) (5.65,-5.65) (5.7,-5.74) (5.75,-5.62) (5.78,-5.65) (5.8,-5.98) (5.83,-6.5)};
\addplot[trV] coordinates {(5.19,0.55) (5.29,0.48) (5.34,0.39) (5.42,0.36) (5.47,0.3) (5.5,0.11) (5.55,0.09) (5.6,0.13) (5.65,0.11) (5.75,0.09) (5.85,0.08) (5.9,-0.01) (5.93,-0.35) (5.95,-0.23) (5.97,-0.72) (5.99,-0.2) (6.01,-0.29) (6.03,-0.75) (6.05,-0.85) (6.055,-6.5) (6.06,-2.54) (6.065,-6.5) (6.08,-6.5) (6.1,-4.14) (6.15,-4.39) (6.2,-4.82) (6.25,-4.94) (6.3,-5.13) (6.35,-5.0) (6.4,-5.06) (6.45,-4.94) (6.5,-5.06) (6.55,-5.19) (6.6,-5.19) (6.65,-5.19) (6.7,-4.94) (6.73,-4.82) (6.77,-4.94) (6.8,-5.19) (6.85,-5.62) (6.9,-5.8) (6.95,-5.71) (7.0,-5.74) (7.05,-5.68) (7.1,-5.71) (7.15,-5.74) (7.2,-5.68) (7.25,-5.8) (7.3,-5.74) (7.35,-6.04) (7.4,-6.23) (7.42,-6.5)};
\node[font=\fontsize{17}{20}\selectfont] at (axis cs:0.28,-0.93) {i)};
\node[font=\fontsize{17}{20}\selectfont] at (axis cs:1.84,-0.93) {ii)};
\node[font=\fontsize{17}{20}\selectfont] at (axis cs:3.36,-0.93) {iii)};
\node[font=\fontsize{17}{20}\selectfont] at (axis cs:4.87,-0.93) {iv)};
\node[font=\fontsize{17}{20}\selectfont] at (axis cs:6.43,-0.93) {v)};
\end{axis}
% ---------------- panel c ----------------
\begin{axis}[myax, at={(55pt,43.3pt)}, width=370pt, height=268.4pt,
  xmin=-6.32, xmax=0.503, ymin=0, ymax=3.9, axis on top,
  xtick={-6,-5,-4,-3,-2,-1,0}, xticklabels={\tp{−6},\tp{−5},\tp{−4},\tp{−3},\tp{−2},\tp{−1},\tp{0}},
  minor xtick=\logminor,
  ytick={0,1,2,3}, yticklabels={0,1,2,3}, minor ytick={0.5,1.5,2.5,3.5},
  xlabel={Conductance (G\textsubscript{0})}, ylabel={Counts / trace},
  xlabel style={at={(axis description cs:0.5,-0.124)}, anchor=center},
  ylabel style={at={(axis description cs:-0.084,0.5)}, anchor=center},
  legend style={at={(axis description cs:0.403,0.882)}, anchor=north west, draw=black!55, line width=0.8pt,
    font=\fontsize{16}{18}\selectfont, inner sep=3pt, row sep=2.5pt},
  legend cell align=left,
  legend image code/.code={\draw[mark repeat=2,mark phase=2,#1] plot coordinates {(0pt,0pt) (7pt,0pt) (14pt,0pt)};},
  legend image post style={line width=1.5pt},
]
\addplot[forget plot, draw=black!45, line width=0.4pt, fill=gY, fill opacity=0.6, smooth, tension=0.5] coordinates {(-6.32,0.3) (-6.19,0.51) (-6.07,0.70) (-5.94,0.85) (-5.86,0.90) (-5.79,0.92) (-5.72,0.90) (-5.64,0.83) (-5.58,0.75) (-5.51,0.655) (-5.45,0.54) (-5.39,0.41) (-5.30,0.22) (-5.25,0.12) (-5.21,0.05) (-5.14,0.0)} \closedcycle;
\addplot[forget plot, draw=black!45, line width=0.4pt, fill=gO, fill opacity=0.6, smooth, tension=0.5] coordinates {(-5.58,0) (-5.48,0.12) (-5.39,0.36) (-5.30,0.75) (-5.21,1.12) (-5.115,1.30) (-5.02,1.14) (-4.93,0.75) (-4.84,0.36) (-4.75,0.12) (-4.65,0.0)} \closedcycle;
\addplot[forget plot, draw=black!45, line width=0.4pt, fill=gR, fill opacity=0.6, smooth, tension=0.5] coordinates {(-5.115,0) (-5.02,0.1) (-4.93,0.36) (-4.84,0.80) (-4.75,1.29) (-4.635,1.52) (-4.53,1.26) (-4.44,0.78) (-4.35,0.36) (-4.25,0.12) (-4.16,0)} \closedcycle;
\addplot[hAll, line width=1.2pt] coordinates {(-6.32,0.85) (-6.28,0.78) (-6.24,1.1) (-6.20,1.41) (-6.17,1.3) (-6.14,0.95) (-6.10,0.78) (-6.07,0.85) (-6.04,1.02) (-6.01,0.75) (-5.99,0.42) (-5.97,0.65) (-5.95,0.70) (-5.88,0.65) (-5.76,0.57) (-5.64,0.52) (-5.51,0.48) (-5.45,0.46) (-5.39,0.49) (-5.27,0.54) (-5.14,0.55) (-5.02,0.53) (-4.90,0.52) (-4.78,0.55) (-4.69,0.57) (-4.63,0.53) (-4.57,0.46) (-4.50,0.36) (-4.44,0.29) (-4.35,0.24) (-4.22,0.19) (-4.04,0.155) (-3.92,0.13) (-3.77,0.11) (-3.52,0.09) (-3.03,0.06) (-2.42,0.05) (-1.5,0.05) (-0.88,0.07) (-0.57,0.10) (-0.39,0.15) (-0.27,0.29) (-0.17,0.56) (-0.13,0.8) (-0.11,1.04) (-0.09,1.4) (-0.07,2.0) (-0.04,2.9) (-0.02,3.45) (-0.005,3.62) (0.01,3.2) (0.03,2.0) (0.05,1.4) (0.07,1.15) (0.09,1.1) (0.13,1.12) (0.18,1.2) (0.22,1.35) (0.26,1.6) (0.29,1.7) (0.32,1.45) (0.34,1.3) (0.37,1.42) (0.40,1.6) (0.43,1.7) (0.46,1.45) (0.5,1.12)};
\addlegendentry{All}
\addplot[hSel, line width=1.2pt] coordinates {(-6.32,0.56) (-6.26,0.56) (-6.23,0.85) (-6.20,1.19) (-6.17,1.14) (-6.14,0.85) (-6.10,0.70) (-6.07,0.75) (-6.04,1.07) (-6.01,0.85) (-5.99,0.65) (-5.97,0.95) (-5.93,0.99) (-5.88,0.98) (-5.82,1.0) (-5.74,1.0) (-5.66,1.02) (-5.58,1.06) (-5.48,1.14) (-5.39,1.31) (-5.30,1.48) (-5.21,1.58) (-5.15,1.63) (-5.09,1.56) (-5.02,1.60) (-4.97,1.53) (-4.93,1.56) (-4.87,1.63) (-4.81,1.65) (-4.75,1.73) (-4.71,1.80) (-4.67,1.72) (-4.63,1.70) (-4.58,1.46) (-4.53,1.24) (-4.47,0.95) (-4.41,0.68) (-4.35,0.53) (-4.29,0.46) (-4.19,0.36) (-4.10,0.29) (-3.98,0.24) (-3.88,0.19) (-3.75,0.15) (-3.5,0.12) (-3.25,0.10) (-3.0,0.08) (-2.5,0.06) (-2.0,0.05) (-1.5,0.05) (-1.0,0.07) (-0.8,0.08) (-0.6,0.10) (-0.45,0.13) (-0.35,0.2) (-0.27,0.32) (-0.2,0.5) (-0.15,0.72) (-0.11,1.0) (-0.09,1.35) (-0.07,1.9) (-0.045,2.6) (-0.02,3.1) (-0.005,3.2) (0.01,2.8) (0.03,1.8) (0.05,1.25) (0.07,1.04) (0.09,1.0) (0.13,1.05) (0.18,1.12) (0.22,1.3) (0.26,1.55) (0.29,1.67) (0.32,1.4) (0.34,1.25) (0.37,1.4) (0.40,1.65) (0.43,1.82) (0.46,1.5) (0.5,1.15)};
\addlegendentry{Selected 24.2\%}
\addplot[hExc, line width=1.2pt] coordinates {(-6.32,1.07) (-6.28,0.94) (-6.24,1.15) (-6.20,1.48) (-6.17,1.35) (-6.14,0.95) (-6.10,0.8) (-6.07,0.88) (-6.04,1.02) (-6.01,0.7) (-5.99,0.41) (-5.97,0.61) (-5.94,0.6) (-5.88,0.57) (-5.76,0.46) (-5.64,0.39) (-5.51,0.34) (-5.39,0.29) (-5.14,0.24) (-4.84,0.19) (-4.53,0.155) (-4.22,0.12) (-3.92,0.095) (-3.52,0.07) (-3.03,0.05) (-2.42,0.04) (-1.5,0.04) (-0.88,0.06) (-0.57,0.08) (-0.39,0.14) (-0.27,0.28) (-0.17,0.55) (-0.13,0.8) (-0.11,1.04) (-0.09,1.4) (-0.07,2.0) (-0.04,2.95) (-0.02,3.55) (-0.005,3.74) (0.01,3.3) (0.03,2.0) (0.05,1.4) (0.07,1.15) (0.09,1.09) (0.13,1.12) (0.18,1.2) (0.22,1.35) (0.26,1.6) (0.29,1.72) (0.32,1.45) (0.34,1.31) (0.37,1.45) (0.40,1.62) (0.43,1.68) (0.46,1.45) (0.5,1.14)};
\addlegendentry{Excluded 75.8\%}
\addplot[forget plot, black, line width=1.3pt, dash pattern=on 4pt off 1.5pt] coordinates {(-6.31,0.315) (-6.19,0.535) (-6.07,0.75) (-5.94,0.92) (-5.82,0.995) (-5.66,1.02) (-5.58,1.05) (-5.48,1.14) (-5.39,1.31) (-5.30,1.46) (-5.21,1.57) (-5.115,1.60) (-5.02,1.585) (-4.93,1.54) (-4.84,1.60) (-4.75,1.70) (-4.67,1.75) (-4.59,1.62) (-4.53,1.29) (-4.44,0.85) (-4.35,0.46) (-4.25,0.22) (-4.16,0.07) (-4.07,0.0)};
\end{axis}
\node[font=\fontsize{16}{18}\selectfont] at (21pt,741pt) {a)};
\node[font=\fontsize{16}{18}\selectfont] at (436pt,741pt) {b)};
\node[font=\fontsize{16}{18}\selectfont] at (22pt,292pt) {c)};
\end{tikzpicture}
\end{document}
